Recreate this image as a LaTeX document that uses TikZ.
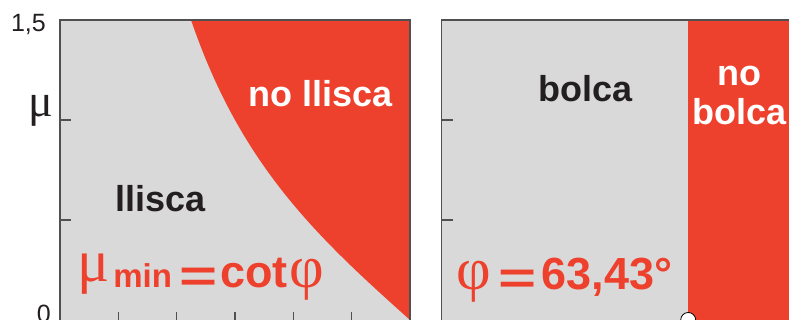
\documentclass[tikz,border=0pt]{standalone}
\usepackage{fontspec}
\usepackage{graphicx}
\setmainfont{Liberation Sans}
\newfontfamily\grec{Liberation Serif}
\usetikzlibrary{positioning}
\definecolor{vermell}{RGB}{238,65,45}
\definecolor{fons}{RGB}{217,217,217}
\definecolor{vora}{RGB}{80,80,80}
\definecolor{tinta}{RGB}{35,31,32}
\newcommand{\mida}[1]{\fontsize{#1}{#1}\selectfont}
\newcommand{\igual}{\raisebox{-4pt}{\scalebox{1.45}[1]{=}}}
\newcommand{\lletra}[1]{{\grec\mdseries\mida{60}#1}}

\begin{document}
\begin{tikzpicture}[x=1pt, y=1pt,
eix/.style={draw=vora, line width=1.1pt},
zona/.style={inner sep=0pt, font=\bfseries\mida{36}},
eixtext/.style={inner sep=0pt, font=\mida{25}, text=tinta},
formula/.style={inner sep=0pt, font=\bfseries\mida{45}, text=vermell},
punt/.style={circle, draw=black, fill=white, inner sep=0pt, minimum size=15pt, line width=0.8pt}]

    \useasboundingbox (0,0) rectangle (789,320);

    % lliscament
    \fill[fons] (60,-2) rectangle (410,300);
    \fill[vermell] plot[domain=33.69:90, samples=80] ({60+\x/90*350},{200*cos(\x)/sin(\x)}) -- (410,-2) -- (410,300) -- cycle;
    \draw[eix] (60,-2) rectangle (410,300);
    \foreach \y in {100,200}
        \draw[eix] (60,\y) -- ++(11,0);
    \foreach \k in {1,...,5}
        \draw[eix] ({60+\k*350/6},0) -- ++(0,8);

    % bolcada
    \fill[fons] (441.5,-2) rectangle (791.5,300);
    \fill[vermell] (688.2,-2) rectangle (791.5,300);
    \draw[eix] (441.5,-2) rectangle (791.5,300);
    \foreach \y in {100,200}
        \draw[eix] (441.5,\y) -- ++(11,0);
    \node[punt] (pivot) at (688.2,0) {};

    % eixos
    \node[eixtext, anchor=base east] (mumax) at (46,288) {1,5};
    \node[eixtext, anchor=base east] (zero) at (51,-3) {0};
    \node[eixtext, anchor=base east, font=\grec\mida{46}] (mu) at (53,203) {μ};

    % zones
    \node[zona, anchor=base west, text=tinta] (llisca) at (115,108) {llisca};
    \node[zona, anchor=base west, text=white] (nollisca) at (248,213) {no llisca};
    \node[zona, anchor=base west, text=tinta] (bolca) at (538,218) {bolca};
    \node[zona, anchor=base, text=white] (no) at (739.5,234) {no};
    \node[zona, anchor=base, text=white] (nobolca) at (739.5,195) {bolca};

    % condicions
    \node[formula, anchor=base west] (mumin) at (77,32)
        {\raisebox{6pt}{\lletra{μ}}\hspace{4pt}{\mida{33}min}\hspace{7pt}\igual\hspace{3pt}cot\hspace{2pt}\lletra{φ}};
    \node[formula, anchor=base west] (phimin) at (456,30)
        {\lletra{φ}\hspace{8pt}\igual\hspace{5pt}63,43°};

\end{tikzpicture}
\end{document}
